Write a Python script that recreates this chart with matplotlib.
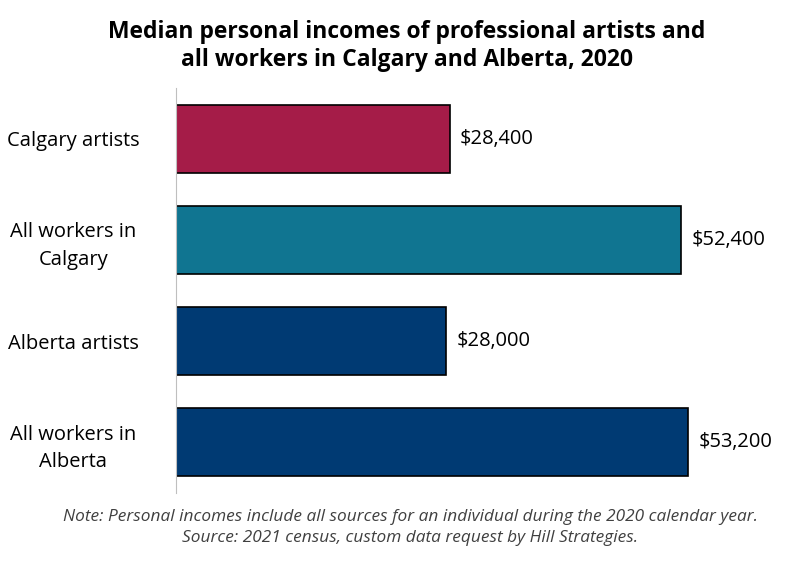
import matplotlib
matplotlib.use("Agg")
import matplotlib.pyplot as plt

categories = ["Calgary artists", "All workers in\nCalgary", "Alberta artists", "All workers in\nAlberta"]
values = [28400, 52400, 28000, 53200]
labels = ["$28,400", "$52,400", "$28,000", "$53,200"]
colors = ["#A51C48", "#107591", "#003A73", "#003A73"]

plt.rcParams["font.family"] = "Open Sans"
fig = plt.figure(figsize=(7.86, 5.71), dpi=100)
ax = fig.add_axes([0.2239, 0.1366, 0.755, 0.7093])
ypos = list(range(len(categories)))
ax.barh(ypos, values, height=0.67, color=colors, edgecolor="black", linewidth=1.2)
for y, v, l in zip(ypos, values, labels):
    ax.text(v + 1100, y, l, va="center", ha="left", fontsize=14.5)
ax.set_yticks(ypos)
ax.set_yticklabels(categories, fontsize=14.5, ha="center", linespacing=1.5)
ax.tick_params(axis="y", length=0, pad=74)
ax.set_ylim(3.5, -0.5)
ax.set_xlim(0, 61600)
ax.set_xticks([])
for s in ["top", "right", "bottom"]:
    ax.spines[s].set_visible(False)
ax.spines["left"].set_color("#BFBFBF")
fig.text(0.518, 0.965, "Median personal incomes of professional artists and\nall workers in Calgary and Alberta, 2020",
         ha="center", va="top", fontsize=16.5, fontweight="bold", linespacing=1.25)
fig.text(0.522, 0.108, "Note: Personal incomes include all sources for an individual during the 2020 calendar year.\nSource: 2021 census, custom data request by Hill Strategies.",
         ha="center", va="top", fontsize=12.4, style="italic", color="#404040", linespacing=1.35)
fig.savefig("out.png", dpi=100)
